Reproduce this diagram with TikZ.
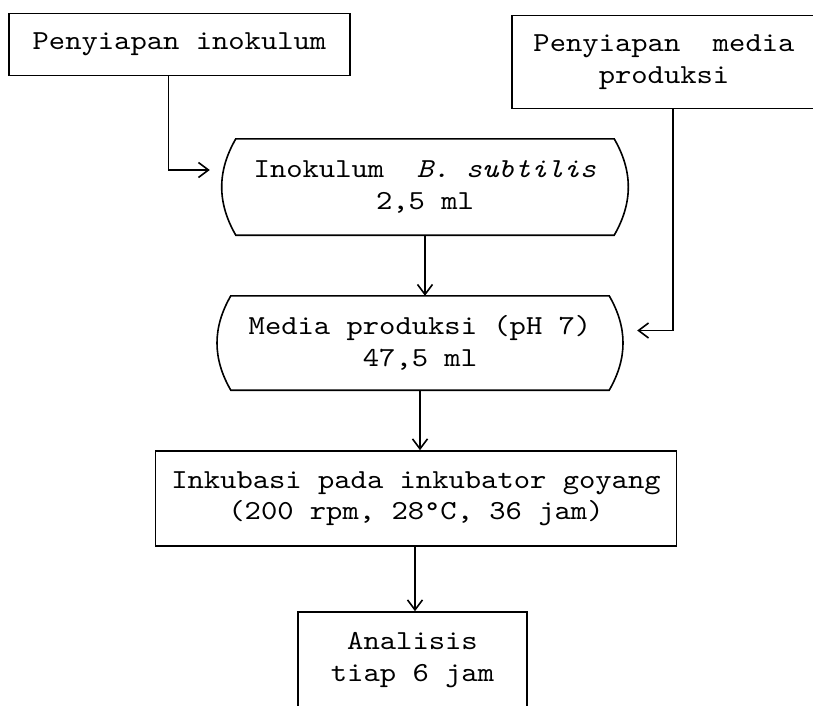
\documentclass[tikz,border=0pt]{standalone}
\usepackage{fontspec}
\usetikzlibrary{arrows.meta}
\newfontfamily\flowtt{lmmono10-regular.otf}[FakeStretch=1.13, ItalicFont=lmmono10-italic.otf, ItalicFeatures={FakeStretch=1.13}]
\newcommand{\flowfont}{\flowtt\fontsize{27.5}{31.5}\selectfont}
\begin{document}
\begin{tikzpicture}[x=1pt,y=-1pt,
  lw/.style={line width=1.6pt},
  txt/.style={font=\flowfont, align=center, inner sep=0pt, rectangle},
  boxnode/.style={txt, draw, lw},
  flownode/.style={txt},
  conn/.style={lw, -{Straight Barb[length=10pt,width=15pt,line width=1.6pt]}},
]
\useasboundingbox (0,0) rectangle (813,705);
\node[boxnode, minimum width=341pt, minimum height=62pt] (prepinok) at (179.5,44.5) {Penyiapan inokulum};
\node[boxnode, minimum width=304pt, minimum height=93pt] (prepmedia) at (664,62) {Penyiapan\ \ media\\produksi};
\node[flownode, minimum width=378pt, minimum height=96pt] (inok) at (425,187) {Inokulum\ \ \textit{B. subtilis}\\2,5 ml};
\node[flownode, minimum width=378pt, minimum height=94pt] (media) at (420,343) {Media produksi (pH 7)\\47,5 ml};
\node[boxnode, minimum width=521pt, minimum height=95pt] (incub) at (416,498.5) {Inkubasi pada inkubator goyang\\(200 rpm, 28°C, 36 jam)};
\node[boxnode, minimum width=229pt, minimum height=96pt] (analisis) at (412.5,660) {Analisis\\tiap 6 jam};

\draw[lw] (inok.south west) to[bend left=30] (inok.north west) -- (inok.north east) to[bend left=30] (inok.south east) -- cycle;
\draw[lw] (media.south west) to[bend left=30] (media.north west) -- (media.north east) to[bend left=30] (media.south east) -- cycle;

\draw[conn, shorten >=26pt] ([xshift=-11pt]prepinok.south) |- ([yshift=17pt]inok.west);
\draw[conn, shorten >=28pt] ([xshift=9pt]prepmedia.south) |- ([yshift=12.5pt]media.east);
\draw[conn] (inok.south) -- (inok.south |- media.north);
\draw[conn] (media.south) -- (media.south |- incub.north);
\draw[conn] ([xshift=-1pt]incub.south) -- ([xshift=-1pt]incub.south |- analisis.north);
\end{tikzpicture}
\end{document}
